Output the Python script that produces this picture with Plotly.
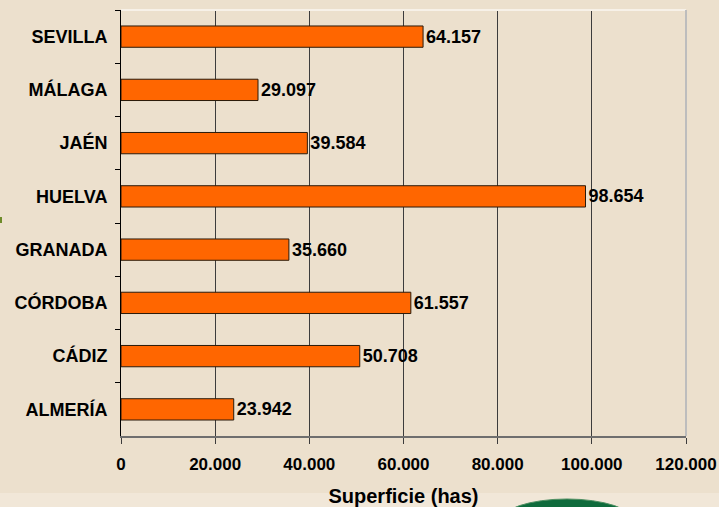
import plotly.graph_objects as go

provincias = ["SEVILLA", "MÁLAGA", "JAÉN", "HUELVA", "GRANADA", "CÓRDOBA", "CÁDIZ", "ALMERÍA"]
superficie = [64157, 29097, 39584, 98654, 35660, 61557, 50708, 23942]
x_ticks = [0, 20000, 40000, 60000, 80000, 100000, 120000]
x_ticklabels = ["0", "20.000", "40.000", "60.000", "80.000", "100.000", "120.000"]
x_title = "Superficie (has)"

def fmt(v):
    return f"{v:,}".replace(",", ".")

FONT = "Liberation Sans, Arial, sans-serif"
BG = "#ECE0CD"

W, H = 719, 507
L, R, T, B = 121, 33, 10, 71
PW, PH = W - L - R, H - T - B

def px_x(x):
    return (x - L) / PW

def px_y(y):
    return (H - B - y) / PH

fig = go.Figure(go.Bar(
    x=superficie,
    y=provincias,
    orientation="h",
    width=0.4,
    marker=dict(color="#FF6600", line=dict(color="#2a1a0a", width=1)),
    text=[fmt(v) for v in superficie],
    textposition="outside",
    textfont=dict(family=FONT, size=18, color="#000000", weight="bold"),
    cliponaxis=False,
    hoverinfo="skip",
))

shapes = [
    # lighter bottom strip
    dict(type="rect", xref="paper", yref="paper", x0=px_x(0), x1=px_x(W), y0=px_y(493), y1=px_y(H),
         fillcolor="#F1E7D8", line=dict(width=0), layer="below"),
    # green ellipse (logo edge)
    dict(type="circle", xref="paper", yref="paper", x0=px_x(500), x1=px_x(634), y0=px_y(499), y1=px_y(544),
         fillcolor="#0F6B3C", line=dict(color="#4E8F62", width=1), layer="above"),
    # small green mark on left edge
    dict(type="rect", xref="paper", yref="paper", x0=px_x(0), x1=px_x(2), y0=px_y(217), y1=px_y(223),
         fillcolor="#6E8B2A", line=dict(width=0)),
    # top border (light)
    dict(type="line", xref="paper", yref="paper", x0=0, x1=1, y0=1, y1=1,
         line=dict(color="#F7F1E8", width=2)),
    # right border (gray)
    dict(type="line", xref="paper", yref="paper", x0=1, x1=1, y0=0, y1=1,
         line=dict(color="#BDBDBD", width=2)),
]

fig.update_layout(
    width=W, height=H,
    margin=dict(l=L, r=R, t=T, b=B, pad=0, autoexpand=False),
    paper_bgcolor=BG,
    plot_bgcolor=BG,
    showlegend=False,
    shapes=shapes,
    font=dict(family=FONT, color="#000000"),
    xaxis=dict(
        range=[0, 120000],
        tickvals=x_ticks,
        ticktext=x_ticklabels,
        showgrid=True,
        gridcolor="#3C3C3C",
        gridwidth=1,
        zeroline=False,
        showline=True,
        linecolor="#6E6E6E",
        linewidth=2,
        ticks="outside",
        ticklen=6,
        tickcolor="#3C3C3C",
        ticklabelstandoff=6,
        tickfont=dict(family=FONT, size=17, color="#000000", weight="bold"),
        title=dict(text=x_title, font=dict(family=FONT, size=20, color="#000000", weight="bold"), standoff=20),
        fixedrange=True,
    ),
    yaxis=dict(
        autorange="reversed",
        showgrid=False,
        zeroline=False,
        showline=True,
        linecolor="#000000",
        linewidth=1,
        ticks="outside",
        tickson="boundaries",
        ticklen=5,
        tickcolor="#000000",
        ticklabelstandoff=9,
        tickfont=dict(family=FONT, size=18, color="#000000", weight="bold"),
        fixedrange=True,
    ),
)

fig.write_html(
    "out.html",
    config={"displayModeBar": False, "staticPlot": True},
    post_script="document.body.style.margin='0';document.body.style.overflow='hidden';",
)
